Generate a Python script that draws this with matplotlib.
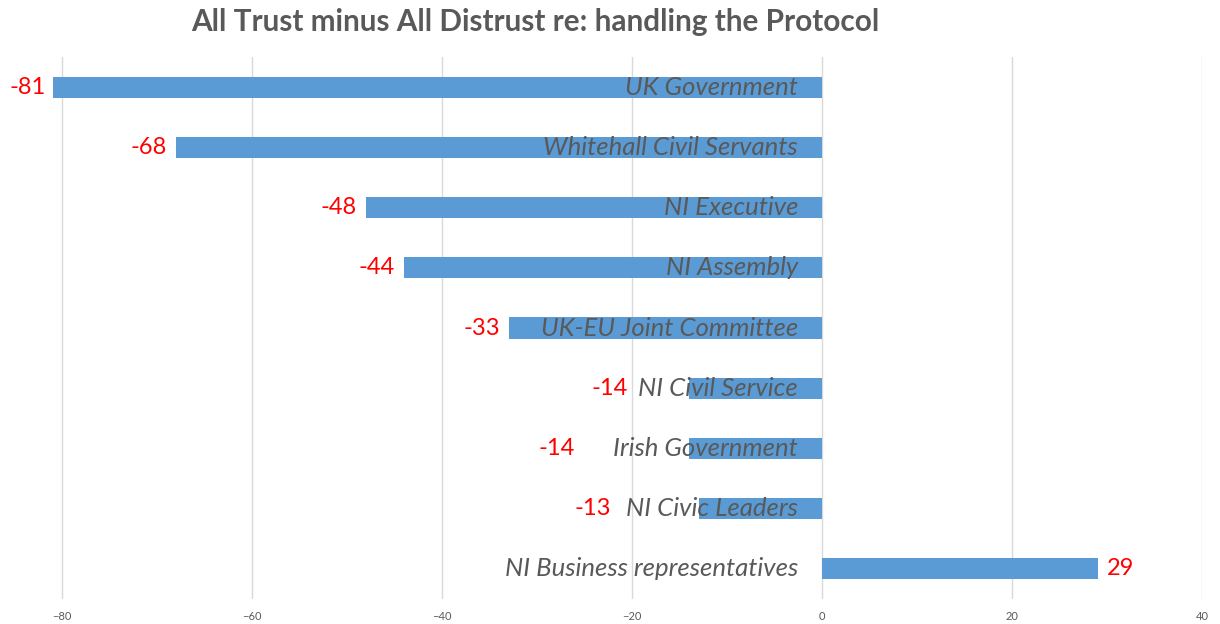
import matplotlib
matplotlib.use("Agg")
import matplotlib.pyplot as plt

# Data (top to bottom)
categories = ["UK Government", "Whitehall Civil Servants", "NI Executive",
              "NI Assembly", "UK-EU Joint Committee", "NI Civil Service",
              "Irish Government", "NI Civic Leaders",
              "NI Business representatives"]
net_trust = [-81, -68, -48, -44, -33, -14, -14, -13, 29]
# horizontal nudge of each value label (pixels from bar end)
label_nudge = [-7, -9, -9, -9, -8, -61, -114, -87, 9]

BAR = "#5B9BD5"
GREY = "#595959"
GRID = "#D9D9D9"

plt.rcParams["font.family"] = ["Lato", "DejaVu Sans"]

fig = plt.figure(figsize=(12.2, 6.24), dpi=100)
ax = fig.add_axes([52.5 / 1220, 1 - 599 / 624, (1202 - 52.5) / 1220, 542 / 624])

ypos = list(range(len(categories)))
ax.barh(ypos, net_trust, height=0.35, color=BAR, zorder=2)

for y, name, v, dx in zip(ypos, categories, net_trust, label_nudge):
    # category name sits just left of zero, over the bar
    ax.annotate(name, xy=(0, y), xytext=(-24, 0), textcoords="offset pixels",
                ha="right", va="center", fontsize=18.5, style="italic",
                color=GREY, zorder=3)
    ax.annotate(f"{v}", xy=(v, y), xytext=(dx, 0), textcoords="offset pixels",
                ha="left" if v > 0 else "right", va="center", fontsize=17,
                color="red", annotation_clip=False, zorder=3)

ax.set_xlim(-81, 40)
ax.set_ylim(len(categories) - 0.5, -0.5)
ax.set_xticks(range(-80, 41, 20))
ax.set_yticks([])
ax.tick_params(axis="x", length=0, labelsize=8, labelcolor=GREY, pad=9)
ax.grid(axis="x", color=GRID, lw=1, zorder=0)
for s in ax.spines.values():
    s.set_visible(False)

fig.text(535 / 1220, 1 - 22 / 624,
         "All Trust minus All Distrust re: handling the Protocol",
         ha="center", va="center", fontsize=21.4, fontweight="bold", color=GREY)

fig.savefig("out.png", dpi=100)
